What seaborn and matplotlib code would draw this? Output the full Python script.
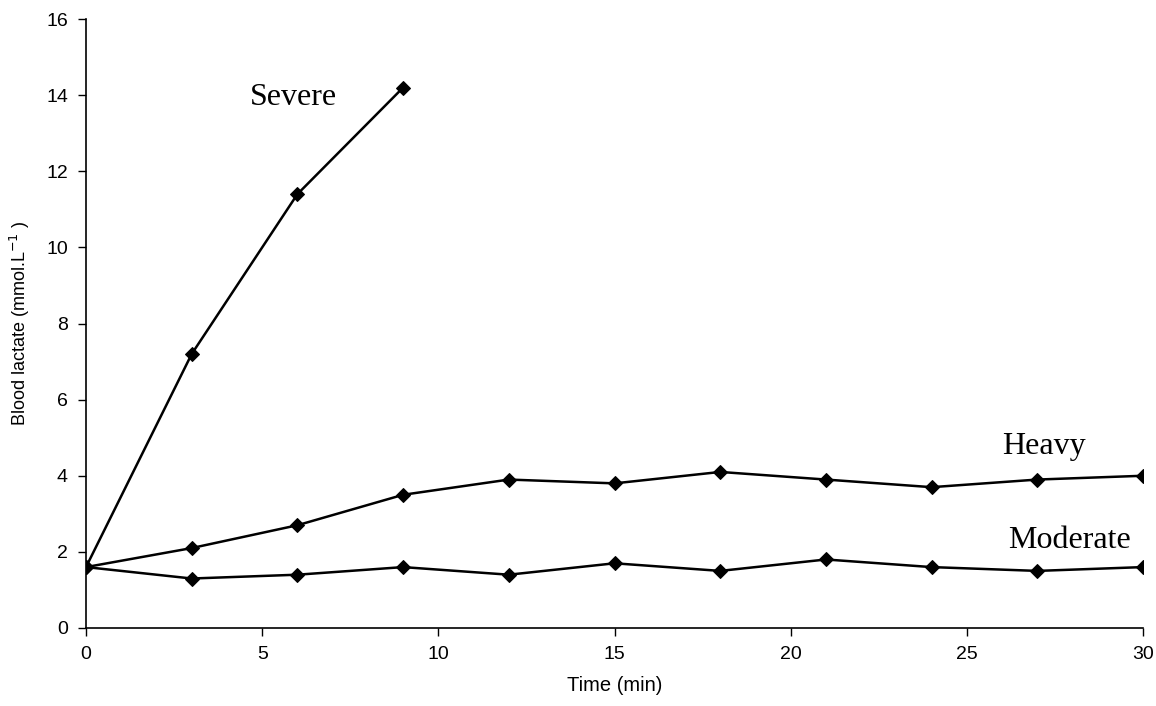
import seaborn as sns
import matplotlib.pyplot as plt
import pandas as pd

time_severe = [0, 3, 6, 9]
severe = [1.6, 7.2, 11.4, 14.2]

time_long = [0, 3, 6, 9, 12, 15, 18, 21, 24, 27, 30]
heavy = [1.6, 2.1, 2.7, 3.5, 3.9, 3.8, 4.1, 3.9, 3.7, 3.9, 4.0]
moderate = [1.6, 1.3, 1.4, 1.6, 1.4, 1.7, 1.5, 1.8, 1.6, 1.5, 1.6]

labels = ["Severe", "Heavy", "Moderate"]

df = pd.concat([
    pd.DataFrame({"time": time_severe, "lactate": severe, "intensity": "Severe"}),
    pd.DataFrame({"time": time_long, "lactate": heavy, "intensity": "Heavy"}),
    pd.DataFrame({"time": time_long, "lactate": moderate, "intensity": "Moderate"}),
])

sns.set_style("ticks")
plt.rcParams['font.family'] = ['Liberation Sans', 'DejaVu Sans']
plt.rcParams['text.color'] = 'black'
plt.rcParams['axes.labelcolor'] = 'black'

fig = plt.figure(figsize=(11.56, 7.06), dpi=100)
ax = fig.add_axes([0.0744, 0.1105, 0.9144, 0.8625])

sns.lineplot(data=df, x="time", y="lactate", hue="intensity", units="intensity",
             estimator=None, palette={k: "black" for k in labels},
             marker="D", markersize=7, markeredgecolor="black",
             linewidth=1.8, legend=False, ax=ax)

ax.set_xlim(0, 30)
ax.set_ylim(0, 16)
ax.set_xticks(range(0, 31, 5))
ax.set_yticks(range(0, 17, 2))
ax.tick_params(axis="both", labelsize=14, length=6, width=1, direction="out",
               colors="black", pad=7)
for s in ["left", "bottom"]:
    ax.spines[s].set_linewidth(1.2)
    ax.spines[s].set_color("black")
sns.despine(ax=ax)

ax.set_xlabel("Time (min)", fontsize=14.5, labelpad=9)
ax.set_ylabel("Blood lactate (mmol.L$^{-1}$ )", fontsize=13, labelpad=10)

serif = ['Liberation Serif', 'DejaVu Serif']
ax.text(5.9, 13.95, "Severe", fontsize=23, family=serif, ha="center", va="center")
ax.text(27.2, 4.76, "Heavy", fontsize=23, family=serif, ha="center", va="center")
ax.text(27.9, 2.31, "Moderate", fontsize=23, family=serif, ha="center", va="center")

fig.savefig("out.png", dpi=100)
